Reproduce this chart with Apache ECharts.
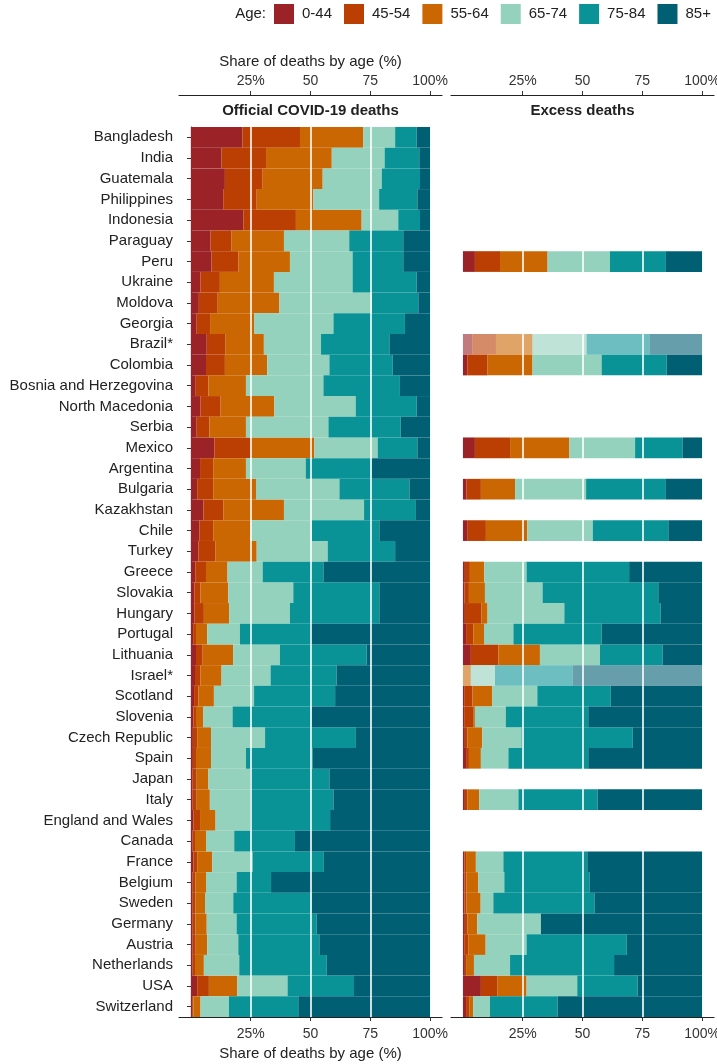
<!DOCTYPE html>
<html><head><meta charset="utf-8">
<script src="https://cdn.jsdelivr.net/npm/echarts@6/dist/echarts.min.js"></script>
<style>html,body{margin:0;padding:0;background:#fff}#c{width:717px;height:1064px}</style>
</head><body><div id="c"></div>
<script>
const countries = ['Bangladesh','India','Guatemala','Philippines','Indonesia','Paraguay','Peru','Ukraine','Moldova','Georgia','Brazil*','Colombia','Bosnia and Herzegovina','North Macedonia','Serbia','Mexico','Argentina','Bulgaria','Kazakhstan','Chile','Turkey','Greece','Slovakia','Hungary','Portugal','Lithuania','Israel*','Scotland','Slovenia','Czech Republic','Spain','Japan','Italy','England and Wales','Canada','France','Belgium','Sweden','Germany','Austria','Netherlands','USA','Switzerland'];
const ageGroups = ['0-44','45-54','55-64','65-74','75-84','85+'];
const colors = ['#9B2226','#BB3E03','#CA6702','#94D2BD','#0A9396','#005F73'];
const tickValues = [25,50,75,100];
const tickLabels = ['25%','50','75','100%'];
const refLines = [25,50,75];
const fadedExcess = ['Brazil*','Israel*'];

// Official COVID-19 deaths, share (%) by age group
const off_0_44  = [21.5,12.8,14.2,13.5,21.9,8.2,8.6,4.0,3.3,2.4,6.6,6.3,2.0,4.0,2.4,9.8,3.8,2.6,5.2,3.5,3.1,1.8,1.4,1.4,0.9,2.1,1.7,1.3,1.0,0.8,0.8,0.7,0.7,1.0,0.7,1.0,0.7,0.7,0.7,0.7,0.7,2.6,0.5];
const off_45_54 = [24.1,18.6,15.8,14.0,22.0,8.8,11.2,8.1,7.9,5.6,7.9,7.9,5.3,8.4,5.3,14.9,5.5,6.7,8.3,5.8,7.2,4.5,2.6,4.0,1.2,2.8,2.3,1.8,1.1,1.8,1.3,1.7,1.7,2.8,1.0,1.6,1.1,1.1,1.1,1.3,1.0,4.9,0.5];
const off_55_64 = [26.5,27.5,25.1,23.7,27.5,21.9,21.6,22.6,25.8,18.4,16.0,17.7,15.7,22.5,15.3,26.9,13.7,17.9,25.4,15.4,17.2,9.0,11.6,10.6,4.7,12.8,8.8,6.5,3.1,5.8,6.3,4.9,5.5,6.5,4.6,6.3,4.5,4.1,4.8,4.8,3.7,11.9,3.0];
const off_65_74 = [13.3,22.1,24.7,27.5,15.3,27.3,26.2,32.9,38.6,33.2,23.9,26.0,32.4,34.0,34.5,26.5,25.0,34.9,33.5,25.8,29.7,14.7,27.2,25.4,13.7,19.5,20.5,16.8,12.2,22.6,14.6,17.4,16.8,14.4,11.8,16.9,12.8,11.8,12.5,13.0,14.8,21.0,11.9];
const off_75_84 = [9.0,14.5,16.0,16.0,9.1,22.6,21.2,26.8,19.5,29.9,28.6,26.5,32.0,25.5,30.2,16.6,27.6,29.3,21.7,28.3,28.2,25.4,36.0,37.4,29.3,36.3,27.6,33.9,33.1,38.0,27.9,33.2,34.9,33.5,25.4,29.8,14.4,32.8,33.5,33.9,36.6,27.8,29.0];
const off_85    = [5.6,4.5,4.2,5.3,4.2,11.2,11.2,5.6,4.9,10.5,17.0,15.6,12.6,5.6,12.3,5.3,24.4,8.6,5.9,21.2,14.6,44.6,21.2,21.2,50.2,26.5,39.1,39.7,49.5,31.0,49.1,42.1,40.4,41.8,56.5,44.4,66.5,49.5,47.4,46.3,43.2,31.8,55.1];

// Excess deaths, share (%) by age group (null = no data)
const exc_0_44  = [null,null,null,null,null,null,5.0,null,null,null,3.9,1.8,null,null,null,5.0,null,1.5,null,2.0,null,0.8,0.6,0.8,1.3,3.3,0.0,0.5,0.5,0.8,1.3,null,0.8,null,null,0.6,0.6,0.6,0.8,0.5,0.8,7.5,1.3];
const exc_45_54 = [null,null,null,null,null,null,10.5,null,null,null,9.9,8.5,null,null,null,14.7,null,6.0,null,7.6,null,2.1,1.9,7.0,3.0,11.5,0.0,3.5,4.0,1.0,1.2,null,1.0,null,null,0.7,0.9,0.9,1.0,1.7,0.5,7.0,1.3];
const exc_55_64 = [null,null,null,null,null,null,19.9,null,null,null,15.3,18.8,null,null,null,24.8,null,14.3,null,17.3,null,6.0,6.7,2.5,4.5,17.4,3.3,8.3,0.5,6.3,5.0,null,5.0,null,null,4.1,4.9,5.9,4.2,7.3,3.3,12.1,1.7];
const exc_65_74 = [null,null,null,null,null,null,26.1,null,null,null,22.6,28.9,null,null,null,27.5,null,29.7,null,27.4,null,17.7,24.1,32.1,12.3,25.1,10.1,18.8,12.9,16.4,11.5,null,16.4,null,null,11.5,10.9,5.3,26.6,17.1,15.1,21.2,7.0];
const exc_75_84 = [null,null,null,null,null,null,23.4,null,null,null,26.3,27.2,null,null,null,19.8,null,33.4,null,31.6,null,42.9,48.4,40.3,36.9,26.2,32.5,30.7,34.5,46.5,33.4,null,33.1,null,null,35.1,35.6,42.3,0.0,41.9,43.5,25.3,28.3];
const exc_85    = [null,null,null,null,null,null,15.1,null,null,null,22.0,14.8,null,null,null,8.2,null,15.1,null,14.1,null,30.5,18.3,17.3,42.0,16.5,54.1,38.2,47.6,29.0,47.6,null,43.7,null,null,48.0,47.1,45.0,67.4,31.5,36.8,26.9,60.4];

const officialByAge = [off_0_44, off_45_54, off_55_64, off_65_74, off_75_84, off_85];
const excessByAge = [exc_0_44, exc_45_54, exc_55_64, exc_65_74, exc_75_84, exc_85];

const FONT = 'Liberation Sans, Arial, Helvetica, sans-serif';
const TXT = '#222';
const chart = echarts.init(document.getElementById('c'), null, {renderer:'canvas'});

const gridTop = 127, gridH = 890;
const grids = [
  {left:179, width:263, top:gridTop, height:gridH, containLabel:false, outerBoundsMode:'none'},
  {left:451, width:263, top:gridTop, height:gridH, containLabel:false, outerBoundsMode:'none'}
];

function xAx(gi, pos, withName){
  const a = {
    type:'value', gridIndex:gi, position:pos, min:-5, max:105,
    offset: pos === 'top' ? 32 : 0,
    splitLine:{show:false},
    axisLine:{show:true, onZero:false, lineStyle:{color:'#222', width:1.2}},
    axisTick:{show:true, length:4, customValues:tickValues, lineStyle:{color:'#333'}},
    axisLabel:{show:true, customValues:tickValues, fontSize:14, color:'#333', fontFamily:FONT,
      margin: pos === 'top' ? 7 : 10,
      formatter: v => tickLabels[tickValues.indexOf(v)]}
  };
  if (withName){
    a.name = 'Share of deaths by age (%)';
    a.nameLocation = 'middle';
    a.nameGap = pos === 'top' ? 26 : 29;
    a.nameTextStyle = {fontSize:15, color:TXT, fontFamily:FONT};
  }
  return a;
}

const xAxes = [xAx(0,'bottom',true), xAx(0,'top',true), xAx(1,'bottom',false), xAx(1,'top',false)];
const yAxes = [
  {type:'category', gridIndex:0, data:countries, inverse:true,
   axisLine:{show:true, lineStyle:{color:'#222', width:1.2}},
   axisTick:{show:true, length:4, alignWithLabel:true, lineStyle:{color:'#333'}},
   axisLabel:{fontSize:15, color:TXT, fontFamily:FONT, margin:6}},
  {type:'category', gridIndex:1, data:countries, inverse:true,
   axisLine:{show:false}, axisTick:{show:false}, axisLabel:{show:false}}
];

const series = [];
const mk = {
  silent:true, symbol:'none', label:{show:false},
  lineStyle:{color:'#ffffff', width:1.6, type:'solid'},
  emphasis:{disabled:true},
  data: refLines.map(v => ({xAxis:v}))
};
ageGroups.forEach((g,i) => {
  series.push({
    name:g, type:'bar', stack:'official', xAxisIndex:0, yAxisIndex:0,
    barWidth:'100%', itemStyle:{color:colors[i]}, z: i===5 ? 3 : 2,
    data: officialByAge[i],
    markLine: i===5 ? mk : undefined
  });
});
ageGroups.forEach((g,i) => {
  series.push({
    name:g, type:'bar', stack:'excess', xAxisIndex:2, yAxisIndex:1,
    barWidth:'100%', itemStyle:{color:colors[i]}, z: i===5 ? 3 : 2,
    data: excessByAge[i].map((v,k) => fadedExcess.includes(countries[k]) ? {value:v, itemStyle:{opacity:0.6}} : v),
    markLine: i===5 ? mk : undefined
  });
});

chart.setOption({
  animation:false,
  textStyle:{fontFamily:FONT},
  grid:grids,
  xAxis:xAxes,
  yAxis:yAxes,
  legend:{
    data:ageGroups, left:274, top:4, width:440, padding:0, orient:'horizontal',
    icon:'rect', itemWidth:20, itemHeight:20, itemGap:12,
    selectedMode:false,
    textStyle:{fontSize:15, color:TXT, fontFamily:FONT, padding:[0,0,0,3]}
  },
  graphic:[
    {type:'text', x:266, y:14, style:{text:'Age:', font:'15px '+FONT, fill:TXT, textAlign:'right', textVerticalAlign:'middle'}},
    {type:'text', x:310.5, y:111, style:{text:'Official COVID-19 deaths', font:'bold 15px '+FONT, fill:TXT, textAlign:'center', textVerticalAlign:'middle'}},
    {type:'text', x:582.5, y:111, style:{text:'Excess deaths', font:'bold 15px '+FONT, fill:TXT, textAlign:'center', textVerticalAlign:'middle'}}
  ],
  series:series
});
</script></body></html>
